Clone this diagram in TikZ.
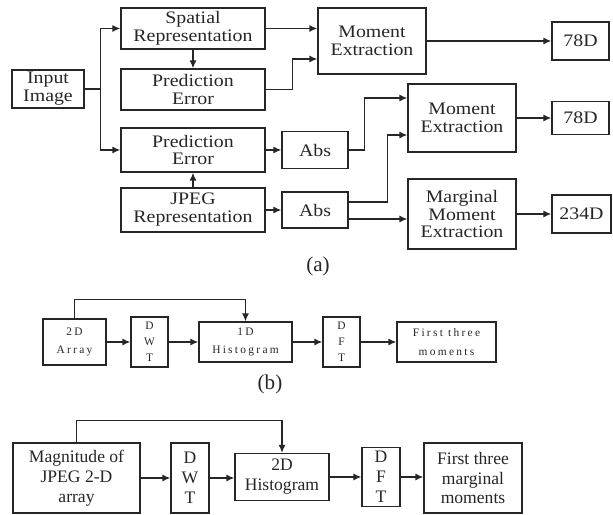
\documentclass[tikz,border=0pt]{standalone}
\usepackage{fontspec}
\setmainfont{Liberation Serif}
\newfontfamily\widefont[FakeStretch=1.13]{Liberation Serif}
\newfontfamily\spacedfont[LetterSpace=20]{Liberation Serif}
\usetikzlibrary{arrows.meta,calc}

\begin{document}
\begin{tikzpicture}[
  x=0.2mm, y=-0.2mm,
  blk/.style={draw, line width=0.8pt, inner sep=0pt, align=center},
  topblk/.style={blk, font=\widefont\fontsize{10}{10.2}\selectfont},
  smallblk/.style={blk, font=\spacedfont\fontsize{6.5}{10.5}\selectfont},
  midblk/.style={blk, font=\fontsize{10}{11.3}\selectfont},
  sublabel/.style={font=\fontsize{12}{12}\selectfont},
  arr/.style={-{Latex[length=4.5pt,width=4pt]}},
  line width=0.75pt, black!85
]
  \useasboundingbox (0,0) rectangle (613,515);

  % (a)
  \node[topblk, minimum width=14.4mm, minimum height=7.6mm] (in) at (48,89) {Input\\Image};
  \node[topblk, minimum width=28.8mm, minimum height=8.2mm] (sp) at (193,28.5) {Spatial\\Representation};
  \node[topblk, minimum width=28.8mm, minimum height=8.2mm] (pe1) at (193,89.5) {Prediction\\Error};
  \node[topblk, minimum width=28.8mm, minimum height=8.8mm] (pe2) at (193,150) {Prediction\\Error};
  \node[topblk, minimum width=28.8mm, minimum height=8.8mm] (jpeg) at (193,210) {JPEG\\Representation};
  \node[topblk, minimum width=13.2mm, minimum height=7.4mm] (abs1) at (315,150) {Abs};
  \node[topblk, minimum width=13.2mm, minimum height=7.2mm] (abs2) at (315,210) {Abs};
  \node[topblk, minimum width=21.6mm, minimum height=13.2mm] (me1) at (372,41) {Moment\\Extraction};
  \node[topblk, minimum width=21.6mm, minimum height=13.6mm] (me2) at (462,118) {Moment\\Extraction};
  \node[topblk, minimum width=21.6mm, minimum height=14mm] (mme) at (462,214) {Marginal\\Moment\\Extraction};
  \node[topblk, minimum width=11.4mm, minimum height=7.6mm] (d1) at (580.5,41) {78D};
  \node[topblk, minimum width=11.4mm, minimum height=6.6mm] (d2) at (580.5,118) {78D};
  \node[topblk, minimum width=11.8mm, minimum height=7.6mm] (d3) at (581.5,214) {234D};
  \node[sublabel] (capa) at (318,266) {(a)};

  \draw[arr] (in.east) -- ++(16,0) |- (sp.west);
  \draw[arr] (in.east) -- ++(16,0) |- (pe2.west);
  \draw[arr] (sp.south) -- (pe1.north);
  \draw[arr] (jpeg.north) -- (pe2.south);
  \draw[arr] (sp.east) -- (sp.east -| me1.west);
  \draw[arr] (pe1.east) -- ++(27,0) |- ($(me1.west)+(0,18)$);
  \draw[arr] (pe2.east) -- (abs1.west);
  \draw[arr] (jpeg.east) -- (abs2.west);
  \draw[arr] (abs1.east) -- ++(16,0) |- ($(me2.west)+(0,-20)$);
  \draw[arr] ($(abs2.east)+(0,-8)$) -- ++(39,0) |- ($(me2.west)+(0,17)$);
  \draw[arr] ($(abs2.east)+(0,9)$) -- ($(mme.west)+(0,5)$);
  \draw[arr] (me1.east) -- (d1.west);
  \draw[arr] (me2.east) -- (d2.west);
  \draw[arr] (mme.east) -- (d3.west);

  % (b)
  \node[smallblk, minimum width=12.6mm, minimum height=9.2mm] (arr2d) at (74.5,342) {2D\\Array};
  \node[smallblk, minimum width=7.4mm, minimum height=10mm] (dwtb) at (149.5,342) {D\\[-1.5pt]W\\[-1.5pt]T};
  \node[smallblk, minimum width=18.6mm, minimum height=8mm] (hist1) at (245.5,342) {1D\\Histogram};
  \node[smallblk, minimum width=7.4mm, minimum height=10mm] (dftb) at (341.5,342) {D\\[-1.5pt]F\\[-1.5pt]T};
  \node[smallblk, minimum width=19.8mm, minimum height=8mm] (momb) at (446.5,342) {First three\\moments};
  \node[sublabel] (capb) at (270,384) {(b)};

  \draw[arr] (arr2d.north) -- ++(0,-19) -| (hist1.north);
  \draw[arr] (arr2d.east) -- (dwtb.west);
  \draw[arr] (dwtb.east) -- (hist1.west);
  \draw[arr] (hist1.east) -- (dftb.west);
  \draw[arr] (dftb.east) -- (momb.west);

  % (c)
  \node[midblk, minimum width=25.4mm, minimum height=14mm] (mag) at (76.5,478) {Magnitude of\\JPEG 2-D\\array};
  \node[midblk, minimum width=7.6mm, minimum height=14mm] (dwtc) at (190,478) {D\\W\\T};
  \node[midblk, minimum width=18.8mm, minimum height=9.4mm] (hist2) at (282,477) {2D\\Histogram};
  \node[midblk, minimum width=7.6mm, minimum height=11.8mm] (dftc) at (381,477) {D\\F\\T};
  \node[midblk, minimum width=19.6mm, minimum height=14mm] (momc) at (473,478) {First three\\marginal\\moments};

  \draw[arr] (mag.north) -- ++(0,-22) -| (hist2.north);
  \draw[arr] (mag.east) -- (dwtc.west);
  \draw[arr] (dwtc.east) -- (dwtc.east -| hist2.west);
  \draw[arr] (hist2.east) -- (hist2.east -| dftc.west);
  \draw[arr] (dftc.east) -- (dftc.east -| momc.west);
\end{tikzpicture}
\end{document}
